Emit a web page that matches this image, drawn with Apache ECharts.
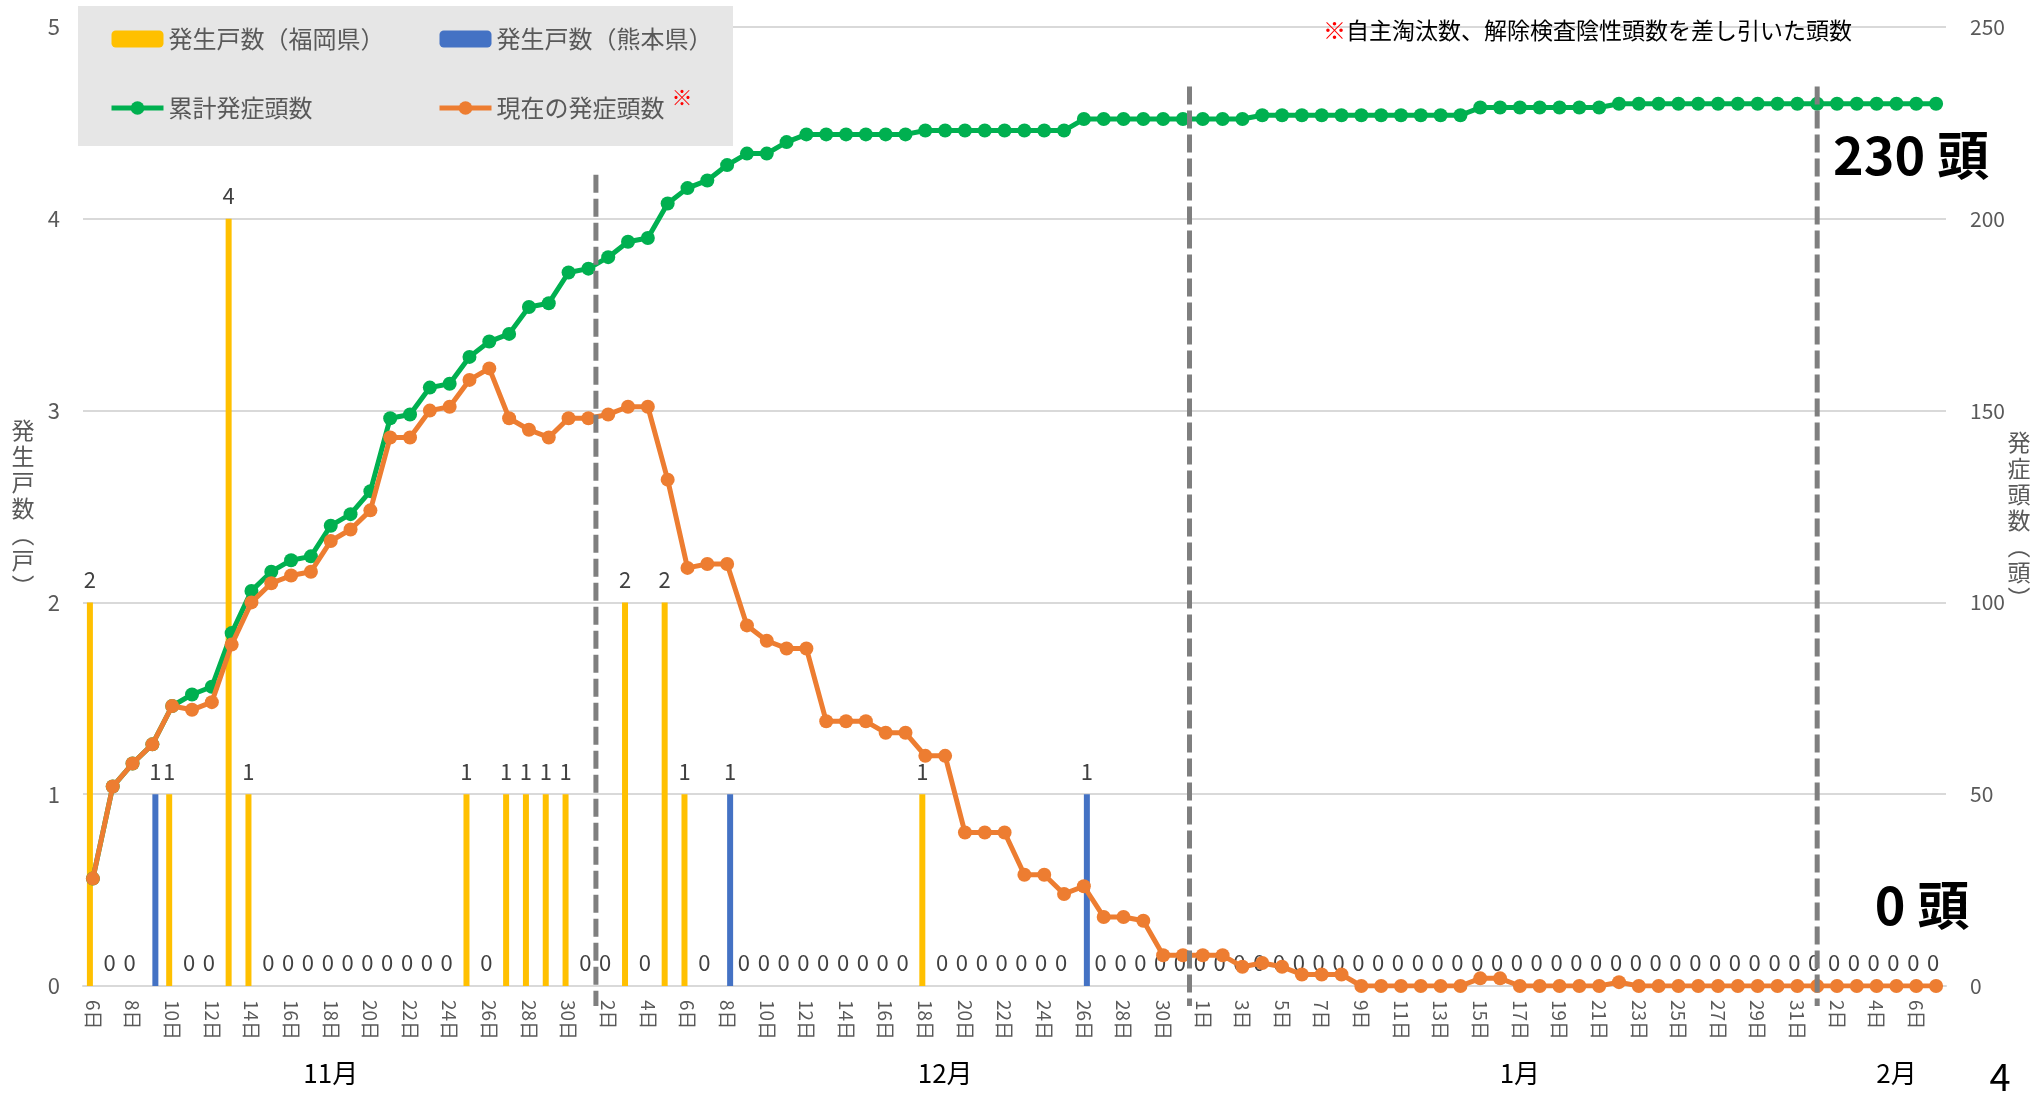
<!DOCTYPE html>
<html>
<head>
<meta charset="utf-8">
<title>発生戸数と発症頭数の推移</title>
<script src="https://cdn.jsdelivr.net/npm/echarts@6/dist/echarts.min.js"></script>
<style>
    html, body { margin: 0; padding: 0; background: #fff; }
    #main { width: 2039px; height: 1095px; }
</style>
</head>
<body>
<div id="main"></div>
<script type="text/javascript">

// 日付 (11/6 〜 2/7)
var days = [
    '11/6','11/7','11/8','11/9','11/10','11/11','11/12','11/13','11/14','11/15',
    '11/16','11/17','11/18','11/19','11/20','11/21','11/22','11/23','11/24','11/25',
    '11/26','11/27','11/28','11/29','11/30',
    '12/1','12/2','12/3','12/4','12/5','12/6','12/7','12/8','12/9','12/10',
    '12/11','12/12','12/13','12/14','12/15','12/16','12/17','12/18','12/19','12/20',
    '12/21','12/22','12/23','12/24','12/25','12/26','12/27','12/28','12/29','12/30','12/31',
    '1/1','1/2','1/3','1/4','1/5','1/6','1/7','1/8','1/9','1/10',
    '1/11','1/12','1/13','1/14','1/15','1/16','1/17','1/18','1/19','1/20',
    '1/21','1/22','1/23','1/24','1/25','1/26','1/27','1/28','1/29','1/30','1/31',
    '2/1','2/2','2/3','2/4','2/5','2/6','2/7'
];

// 発生戸数（福岡県）
var fukuoka = [
    2,0,0,0,1,0,0,4,1,0,0,0,0,0,0,0,0,0,0,1,0,1,1,1,1,
    0,0,2,0,2,1,0,0,0,0,0,0,0,0,0,0,0,1,0,0,0,0,0,0,0,0,0,0,0,0,0,
    0,0,0,0,0,0,0,0,0,0,0,0,0,0,0,0,0,0,0,0,0,0,0,0,0,0,0,0,0,0,0,
    0,0,0,0,0,0,0
];

// 発生戸数（熊本県）
var kumamoto = [
    0,0,0,1,0,0,0,0,0,0,0,0,0,0,0,0,0,0,0,0,0,0,0,0,0,
    0,0,0,0,0,0,0,1,0,0,0,0,0,0,0,0,0,0,0,0,0,0,0,0,0,1,0,0,0,0,0,
    0,0,0,0,0,0,0,0,0,0,0,0,0,0,0,0,0,0,0,0,0,0,0,0,0,0,0,0,0,0,0,
    0,0,0,0,0,0,0
];

// 累計発症頭数
var cumulative = [
    28,52,58,63,73,76,78,92,103,108,111,112,120,123,129,148,149,156,157,164,168,170,177,178,186,
    187,190,194,195,204,208,210,214,217,217,220,222,222,222,222,222,222,223,223,223,223,223,223,223,223,226,226,226,226,226,226,
    226,226,226,227,227,227,227,227,227,227,227,227,227,227,229,229,229,229,229,229,229,230,230,230,230,230,230,230,230,230,230,
    230,230,230,230,230,230,230
];

// 現在の発症頭数
var current = [
    28,52,58,63,73,72,74,89,100,105,107,108,116,119,124,143,143,150,151,158,161,148,145,143,148,
    148,149,151,151,132,109,110,110,94,90,88,88,69,69,69,66,66,60,60,40,40,40,29,29,24,26,18,18,17,8,8,
    8,8,5,6,5,3,3,3,0,0,0,0,0,0,2,2,0,0,0,0,0,1,0,0,0,0,0,0,0,0,0,
    0,0,0,0,0,0,0
];

// 月ラベル
var monthNames = ['11月', '12月', '1月', '2月'];
var monthAt = ['11/18', '12/19', '1/17', '2/5'];

// 区切り線 (点線)
var dividers = [
    { day: '12/1', shift: 0.38, top: 4.23 },
    { day: '12/31', shift: 0.33, top: 4.69 },
    { day: '2/1', shift: 0, top: 4.69 }
];

var FONT = '"Noto Sans CJK JP", "Noto Sans", sans-serif';
var myChart = echarts.init(document.getElementById('main'));

var labelStyle = {
    show: true,
    position: 'top',
    distance: 12,
    fontSize: 22,
    color: '#404040',
    fontFamily: FONT
};

var legendBase = {
    top: 27, padding: 0, orient: 'vertical',
    itemWidth: 52, itemHeight: 17, itemGap: 45,
    lineStyle: { width: 5 },
    textStyle: { fontSize: 24, color: '#595959', fontFamily: FONT }
};

var option = {
    animation: false,
    textStyle: { fontFamily: FONT },
    grid: { left: 83, right: 93, top: 27, bottom: 109, outerBoundsMode: 'none' },
    legend: [
        Object.assign({}, legendBase, { left: 109, data: ['発生戸数（福岡県）', '累計発症頭数'] }),
        Object.assign({}, legendBase, { left: 437, data: ['発生戸数（熊本県）', '現在の発症頭数'] })
    ],
    xAxis: [
        {
            type: 'category',
            data: days,
            boundaryGap: true,
            axisLine: { lineStyle: { color: '#d9d9d9', width: 2 } },
            axisTick: { show: false },
            axisLabel: {
                interval: 1, rotate: -90, margin: 14,
                fontSize: 19, color: '#595959',
                formatter: function (v) { return v.split('/')[1] + '日'; }
            }
        },
        {
            type: 'category',
            data: days,
            position: 'bottom',
            axisLine: { show: false },
            axisTick: { show: false },
            splitLine: { show: false },
            axisLabel: {
                margin: 74, fontSize: 26, color: '#000',
                interval: function (i, v) { return monthAt.indexOf(v) >= 0; },
                formatter: function (v) {
                    var k = monthAt.indexOf(v);
                    return k >= 0 ? monthNames[k] : '';
                }
            }
        }
    ],
    yAxis: [
        {
            type: 'value', min: 0, max: 5, interval: 1,
            axisLine: { show: false },
            axisTick: { show: false },
            axisLabel: { fontSize: 22, color: '#595959', margin: 23 },
            splitLine: { lineStyle: { color: '#d9d9d9', width: 2 } }
        },
        {
            type: 'value', min: 0, max: 250, interval: 50, position: 'right',
            axisLine: { show: false },
            axisTick: { show: false },
            axisLabel: { fontSize: 21, color: '#595959', margin: 24 },
            splitLine: { show: false }
        }
    ],
    series: [
        {
            name: '発生戸数（福岡県）',
            type: 'bar',
            data: fukuoka,
            barWidth: 6,
            barGap: '0%',
            itemStyle: { color: '#ffc000' },
            label: Object.assign({}, labelStyle, {
                formatter: function (p) { return kumamoto[p.dataIndex] > 0 ? '' : String(p.value); }
            })
        },
        {
            name: '発生戸数（熊本県）',
            type: 'bar',
            data: kumamoto,
            barWidth: 6,
            itemStyle: { color: '#4472c4' },
            label: Object.assign({}, labelStyle, {
                formatter: function (p) { return p.value > 0 ? String(p.value) : ''; }
            })
        },
        {
            name: '累計発症頭数',
            type: 'line',
            yAxisIndex: 1,
            data: cumulative,
            symbol: 'circle',
            symbolSize: 14,
            showAllSymbol: true,
            lineStyle: { width: 5, color: '#00b050' },
            itemStyle: { color: '#00b050' },
            z: 3
        },
        {
            name: '現在の発症頭数',
            type: 'line',
            yAxisIndex: 1,
            data: current,
            symbol: 'circle',
            symbolSize: 14,
            showAllSymbol: true,
            lineStyle: { width: 5, color: '#ed7d31' },
            itemStyle: { color: '#ed7d31' },
            z: 4
        }
    ]
};

myChart.setOption(option);

// 注記・点線はグリッドの位置から計算する
var catW = myChart.convertToPixel({ xAxisIndex: 0 }, days[1]) - myChart.convertToPixel({ xAxisIndex: 0 }, days[0]);
var baseY = myChart.convertToPixel({ yAxisIndex: 0 }, 0);

var graphics = [
    // 凡例の背景
    { type: 'rect', z: 3, shape: { x: 78, y: 6, width: 655, height: 140 }, style: { fill: '#e6e6e6' } },
    { type: 'text', z: 5, x: 682, y: 97, style: { text: '※', fill: '#ff0000', fontSize: 21, fontFamily: FONT, align: 'center', verticalAlign: 'middle' } },
    // 注記
    { type: 'text', x: 1323, y: 30, style: { text: '※', fill: '#ff0000', fontSize: 23, fontFamily: FONT, align: 'left', verticalAlign: 'middle' } },
    { type: 'text', x: 1346, y: 30, style: { text: '自主淘汰数、解除検査陰性頭数を差し引いた頭数', fill: '#000', fontSize: 23, fontFamily: FONT, align: 'left', verticalAlign: 'middle' } },
    // 軸タイトル
    { type: 'text', x: 23, y: 508, style: { text: '発\n生\n戸\n数\n︵\n戸\n︶', fill: '#595959', fontSize: 23, lineHeight: 26, fontFamily: FONT, align: 'center', verticalAlign: 'middle' } },
    { type: 'text', x: 2019, y: 520, style: { text: '発\n症\n頭\n数\n︵\n頭\n︶', fill: '#595959', fontSize: 23, lineHeight: 26, fontFamily: FONT, align: 'center', verticalAlign: 'middle' } },
    // 強調
    { type: 'text', z: 12, x: 1911, y: 155, style: { text: '230 頭', fill: '#000', fontSize: 52, fontWeight: 'bold', fontFamily: FONT, align: 'center', verticalAlign: 'middle' } },
    { type: 'text', z: 12, x: 1922, y: 905, style: { text: '0 頭', fill: '#000', fontSize: 52, fontWeight: 'bold', fontFamily: FONT, align: 'center', verticalAlign: 'middle' } },
    // ページ番号
    { type: 'text', x: 2000, y: 1077, style: { text: '4', fill: '#000', fontSize: 38, fontFamily: FONT, align: 'center', verticalAlign: 'middle' } }
];

dividers.forEach(function (d) {
    var x = myChart.convertToPixel({ xAxisIndex: 0 }, d.day) + d.shift * catW;
    var yTop = myChart.convertToPixel({ yAxisIndex: 0 }, d.top);
    graphics.push({
        type: 'line', z: 10,
        shape: { x1: x, y1: yTop, x2: x, y2: baseY + 20 },
        style: { stroke: '#7f7f7f', lineWidth: 5, lineDash: [18, 6] }
    });
});

myChart.setOption({ graphic: graphics });
</script>
</body>
</html>
